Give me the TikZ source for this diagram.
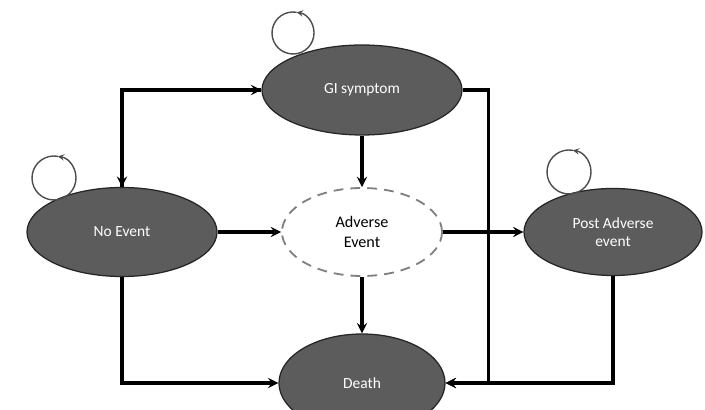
\documentclass[tikz,border=0pt]{standalone}
\usepackage{fontspec}
\setmainfont{Carlito}
\usetikzlibrary{shapes.geometric,arrows}

\begin{document}
\begin{tikzpicture}
        \tikzstyle{state} = [ellipse, minimum width=5cm, minimum height=2.25cm, text centered, align=center, draw=black!85, fill=black!64, text=white, line width=0.9pt, font=\fontsize{11}{13}\selectfont]
        \tikzstyle{event} = [ellipse, minimum width=4cm, minimum height=2.2cm, text centered, align=center, draw=black!50, dash pattern=on 7pt off 5pt, line width=1.3pt, font=\fontsize{11.5}{14}\selectfont]
        \tikzstyle{arrow} = [line width=2.2pt,->,>=stealth]
        \tikzstyle{selfloop} = [black!70, line width=1pt,->,>=stealth]

                \useasboundingbox (0,0) rectangle (17.625,10.25);

                \node (gi) [state] at (9.05,8) {GI symptom};
                \node (adverse) [event, below of=gi, node distance=3.55cm] {Adverse\\Event};
                \node (death) [state, below of=adverse, node distance=3.775cm, minimum width=4.15cm, minimum height=2.45cm] {Death};
                \node (noevent) [state, left of=adverse, node distance=6cm, minimum width=4.75cm, minimum height=2.225cm] {No Event};
                \node (post) [state, right of=adverse, node distance=6.275cm, minimum width=4.45cm, minimum height=2.175cm] {Post Adverse\\event};

                \draw[selfloop] ([shift={(-1.725,1.425)}]gi.center) ++(80:0.525) arc (80:440:0.525);
                \draw[selfloop] ([shift={(-1.7,1.35)}]noevent.center) ++(80:0.55) arc (80:440:0.55);
                \draw[selfloop] ([shift={(-1.1,1.5)}]post.center) ++(80:0.55) arc (80:440:0.55);

                \draw[arrow] (gi.west) -| (noevent.north);
                \draw[arrow] (noevent.north) |- (gi.west);
                \draw[arrow] (gi.south) -- (adverse.north);
                \draw[arrow] (noevent.east) -- (adverse.west);
                \draw[arrow] (adverse.east) -- (post.west);
                \draw[arrow] (adverse.south) -- (death.north);
                \draw[arrow] (noevent.south) |- (death.west);
                \draw[arrow] (gi.east) -- ++(0.65,0) |- (death.east);
                \draw[arrow] (post.south) |- (death.east);
\end{tikzpicture}
\end{document}
